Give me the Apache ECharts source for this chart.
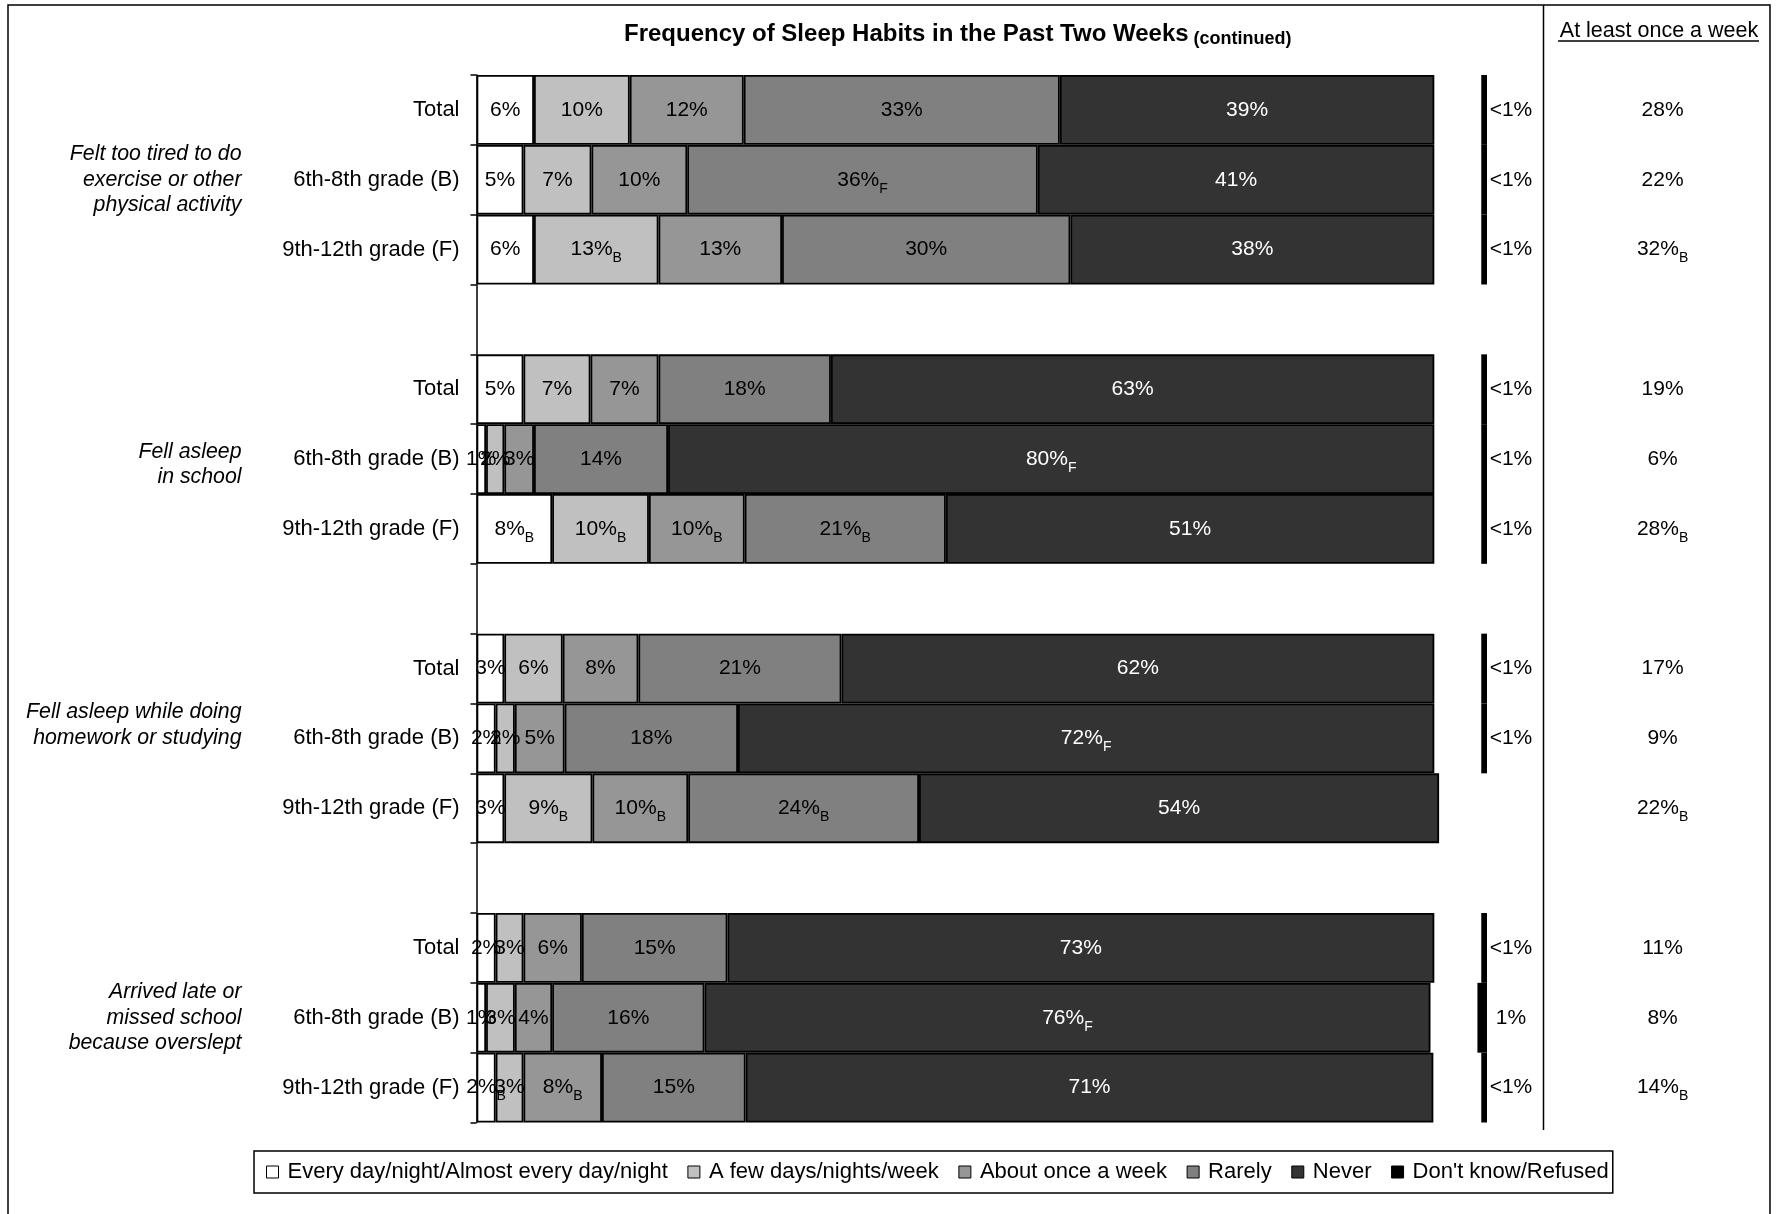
<!DOCTYPE html>
<html><head><meta charset="utf-8">
<script src="https://cdn.jsdelivr.net/npm/echarts@6/dist/echarts.min.js"></script>
<style>html,body{margin:0;padding:0;background:#fff}#c{width:1779px;height:1214px}</style>
</head><body><div id="c"></div>
<script>
// ---------- data ----------
const groupLabels = [
  'Felt too tired to do\nexercise or other\nphysical activity',
  'Fell asleep\nin school',
  'Fell asleep while doing\nhomework or studying',
  'Arrived late or\nmissed school\nbecause overslept'
];
const rowLabels = ['Total', '6th-8th grade (B)', '9th-12th grade (F)'];
const seriesNames = ['Every day/night/Almost every day/night', 'A few days/nights/week', 'About once a week', 'Rarely', 'Never', "Don't know/Refused"];

// 12 rows: 4 groups x (Total, 6th-8th, 9th-12th)
const everyDay = [6.0, 4.9, 6.0, 4.9, 1.0, 7.9, 2.9, 2.0, 2.9, 2.0, 1.0, 2.0];
const fewDays  = [10.0, 7.1, 13.0, 7.0, 1.9, 10.1, 6.1, 2.0, 9.2, 2.9, 3.0, 2.9];
const onceWeek = [11.9, 10.0, 12.9, 7.1, 3.1, 10.0, 7.9, 5.2, 10.0, 6.1, 3.9, 8.2];
const rarely   = [33.0, 36.6, 30.1, 18.0, 14.0, 21.0, 21.2, 18.1, 24.1, 15.2, 15.9, 15.0];
const never    = [39.1, 41.4, 38.0, 63.0, 80.0, 51.0, 61.9, 72.7, 54.3, 73.8, 75.8, 71.8];
const dontKnow = [0.6, 0.6, 0.6, 0.6, 0.6, 0.6, 0.6, 0.6, null, 0.6, 1.0, 0.6];

// label texts ("|X" = subscript significance letter)
const everyDayLbl = ['6%', '5%', '6%', '5%', '1%', '8%|B', '3%', '2%', '3%', '2%', '1%', '2%|B'];
const fewDaysLbl  = ['10%', '7%', '13%|B', '7%', '2%', '10%|B', '6%', '2%', '9%|B', '3%', '3%', '3%'];
const onceWeekLbl = ['12%', '10%', '13%', '7%', '3%', '10%|B', '8%', '5%', '10%|B', '6%', '4%', '8%|B'];
const rarelyLbl   = ['33%', '36%|F', '30%', '18%', '14%', '21%|B', '21%', '18%', '24%|B', '15%', '16%', '15%'];
const neverLbl    = ['39%', '41%', '38%', '63%', '80%|F', '51%', '62%', '72%|F', '54%', '73%', '76%|F', '71%'];
const dontKnowLbl = ['<1%', '<1%', '<1%', '<1%', '<1%', '<1%', '<1%', '<1%', '', '<1%', '1%', '<1%'];
const weeklyLbl   = ['28%', '22%', '32%|B', '19%', '6%', '28%|B', '17%', '9%', '22%|B', '11%', '8%', '14%|B'];

// ---------- layout helpers ----------
const FONT = '"Liberation Sans", Arial, Helvetica, sans-serif';
const NSLOT = 15;               // 4 groups of 3 rows + 3 blank spacer rows
const slotOf = i => Math.floor(i / 3) * 4 + (i % 3);
function spread(arr) {
  const out = new Array(NSLOT).fill(null);
  arr.forEach((v, i) => { out[slotOf(i)] = v; });
  return out;
}
const cats = Array.from({length: NSLOT}, (_, k) => 'slot' + k);
function rich(s) {
  if (!s) return '';
  const p = s.split('|');
  return p[1] ? '{m|' + p[0] + '}{s|' + p[1] + '}' : '{m|' + p[0] + '}';
}
function richStyles(color) {
  return {
    m: {fontSize: 21, fontFamily: FONT, color: color, lineHeight: 24},
    s: {fontSize: 14, fontFamily: FONT, color: color, lineHeight: 14, padding: [18, 0, 0, 0]}
  };
}
// vertical nudge of the group captions (layout only): 'top' adds a spacer line above, 'bottom' below
const groupNudge = ['', 'top', 'bottom', ''];
function groupText(g) {
  let s = groupLabels[g].split('\n').map(l => '{g|' + l + '}').join('\n');
  if (groupNudge[g] === 'top') s = '{pt| }\n' + s;
  if (groupNudge[g] === 'bottom') s = s + '\n{pb| }';
  return s;
}
const DK_END = 105.5;   // right edge of the "Don't know" marks on the value scale
const DK_LABEL = 108.0; // centre of their labels

const fills = ['#FFFFFF', '#C0C0C0', '#969696', '#808080', '#333333'];
const vals = [everyDay, fewDays, onceWeek, rarely, never];
const lbls = [everyDayLbl, fewDaysLbl, onceWeekLbl, rarelyLbl, neverLbl];

const barSeries = vals.map((arr, k) => {
  const lab = spread(lbls[k]);
  return {
    type: 'bar', name: seriesNames[k], stack: 'all',
    data: spread(arr), barWidth: '100%',
    itemStyle: {color: fills[k], borderColor: '#000', borderWidth: 1.8},
    label: {
      show: true, position: 'inside',
      formatter: p => rich(lab[p.dataIndex]),
      rich: richStyles(k === 4 ? '#FFFFFF' : '#000000')
    },
    emphasis: {disabled: true}
  };
});

const dkData = [];
dontKnow.forEach((v, i) => { if (v != null) dkData.push([v, slotOf(i), i]); });

const dkSeries = {
  type: 'custom', name: seriesNames[5],
  itemStyle: {color: '#000'},
  data: dkData,
  encode: {x: 0, y: 1},
  renderItem: (params, api) => {
    const v = api.value(0), c = api.value(1), i = api.value(2);
    const r = api.coord([DK_END, c]);
    const l = api.coord([DK_END - v, c]);
    const h = api.size([0, 1])[1];
    const tx = api.coord([DK_LABEL, c]);
    return {type: 'group', children: [
      {type: 'rect', shape: {x: l[0], y: r[1] - h / 2, width: r[0] - l[0], height: h}, style: {fill: '#000'}},
      {type: 'text', style: {text: dontKnowLbl[i], x: tx[0], y: tx[1], align: 'center', verticalAlign: 'middle',
        fontSize: 21, fontFamily: FONT, fill: '#000'}}
    ]};
  }
};

const chart = echarts.init(document.getElementById('c'), null, {renderer: 'canvas'});
chart.setOption({
  animation: false,
  backgroundColor: '#fff',
  title: {
    text: '{a|Frequency of Sleep Habits in the Past Two Weeks} {b|(continued)}',
    left: 619, top: 16,
    textStyle: {rich: {
      a: {fontSize: 24, fontWeight: 'bold', fontFamily: FONT, color: '#000', lineHeight: 27},
      b: {fontSize: 18, fontWeight: 'bold', fontFamily: FONT, color: '#000', lineHeight: 21, verticalAlign: 'bottom'}
    }}
  },
  grid: {left: 476.5, top: 75, width: 1053.6, height: 1047.5},
  xAxis: {type: 'value', min: 0, max: 110, show: false},
  yAxis: [
    {
      type: 'category', data: cats, inverse: true, position: 'left',
      axisLine: {show: true, onZero: false, lineStyle: {color: '#000', width: 1.5}},
      axisTick: {show: true, length: 6, interval: 0, lineStyle: {color: '#000', width: 1.5}},
      axisLabel: {interval: 0, margin: 17, fontSize: 22, fontFamily: FONT, color: '#000',
        formatter: (v, idx) => (idx % 4 < 3 ? rowLabels[idx % 4] : '')},
      splitLine: {show: false}
    },
    {
      type: 'category', data: cats, inverse: true, position: 'left',
      axisLine: {show: false, onZero: false}, axisTick: {show: false},
      axisLabel: {interval: 0, margin: 235, align: 'right',
        formatter: (v, idx) => (idx % 4 === 1 ? groupText(Math.floor(idx / 4)) : ''),
        rich: {
          g: {fontSize: 21.3, fontStyle: 'italic', fontFamily: FONT, color: '#000', lineHeight: 25.7},
          pt: {fontSize: 4, lineHeight: 11},
          pb: {fontSize: 4, lineHeight: 26}
        }},
      splitLine: {show: false}
    },
    {
      type: 'category', data: cats, inverse: true, position: 'right',
      axisLine: {show: false, onZero: false}, axisTick: {show: false},
      axisLabel: {interval: 0, margin: 132.5, align: 'center',
        formatter: (v, idx) => (idx % 4 < 3 ? rich(weeklyLbl[Math.floor(idx / 4) * 3 + idx % 4]) : ''),
        rich: richStyles('#000')},
      splitLine: {show: false}
    }
  ],
  legend: {
    data: seriesNames, left: 254, top: 1151, icon: 'rect', itemWidth: 12, itemHeight: 12, itemGap: 19.6,
    padding: [10, 4, 10, 12], borderColor: '#000', borderWidth: 1.5, backgroundColor: '#fff',
    selectedMode: false,
    itemStyle: {borderColor: '#000', borderWidth: 1},
    textStyle: {fontSize: 22, fontFamily: FONT, color: '#000', padding: [0, 0, 0, 4]}
  },
  graphic: [
    {type: 'rect', silent: true, z: -10, shape: {x: 8, y: 5, width: 1762, height: 1230},
      style: {fill: 'none', stroke: '#000', lineWidth: 1.5}},
    {type: 'line', silent: true, shape: {x1: 1543.5, y1: 5, x2: 1543.5, y2: 1130},
      style: {stroke: '#000', lineWidth: 1.5}},
    {type: 'text', silent: true, style: {text: 'At least once a week', x: 1659, y: 31, align: 'center', verticalAlign: 'middle',
      fontSize: 21.5, fontFamily: FONT, fill: '#000'}},
    {type: 'line', silent: true, shape: {x1: 1558, y1: 41, x2: 1759, y2: 41}, style: {stroke: '#000', lineWidth: 1.3}}
  ],
  series: barSeries.concat([dkSeries])
});
</script>
</body></html>
